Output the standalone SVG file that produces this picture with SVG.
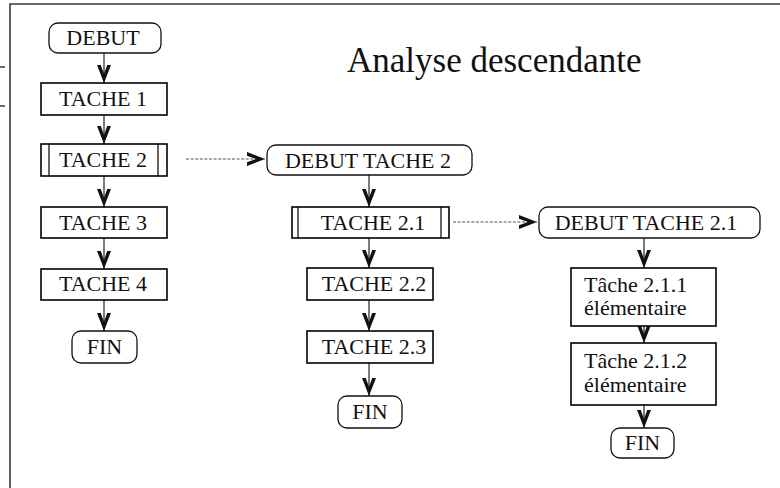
<svg xmlns="http://www.w3.org/2000/svg" width="780" height="488" viewBox="0 0 780 488">
  <style>
    .frame { stroke: #3a3a3a; stroke-width: 1.6; fill: none; }
    .box { fill: #fff; stroke: #000; stroke-width: 1.6; }
    .term { fill: #fff; stroke: #111; stroke-width: 1.3; }
    .sub { stroke: #000; stroke-width: 1.2; }
    .flow { stroke: #333; stroke-width: 1.3; fill: none; marker-end: url(#chev); }
    .link { stroke: #555; stroke-width: 1.1; stroke-dasharray: 3 1.6; fill: none; marker-end: url(#chev); }
    text { font-family: "Liberation Serif", "Times New Roman", serif; font-size: 22px; fill: #111; }
    .c { text-anchor: middle; }
    .title { font-size: 35px; }
  </style>
  <defs>
    <!-- thick open chevron head, tip at the end of the line -->
    <marker id="chev" markerUnits="userSpaceOnUse" viewBox="-19 -8 20 16" refX="0" refY="0" markerWidth="20" markerHeight="16" orient="auto" overflow="visible">
      <path d="M0,0 L-18,-7 L-18,-3.2 L-9,0 L-18,3.2 L-18,7 Z" fill="#111"/>
    </marker>
  </defs>

  <rect width="780" height="488" fill="#fff"/>

  <!-- page frame and margin ticks -->
  <path class="frame" d="M10,488 V4 H780"/>
  <path class="frame" d="M0,67 H5 M0,106 H5" stroke-width="1.2"/>

  <text class="title" x="347" y="72">Analyse descendante</text>

  <g id="connectors">
    <!-- main flow -->
    <path class="flow" d="M104,53 V83"/>
    <path class="flow" d="M104,115 V144"/>
    <path class="flow" d="M104,176 V207"/>
    <path class="flow" d="M104,238 V269"/>
    <path class="flow" d="M104,300 V331"/>
    <!-- TACHE 2 detail -->
    <path class="link" d="M186,159 H265"/>
    <path class="flow" d="M369,175 V207"/>
    <path class="flow" d="M369,238 V268"/>
    <path class="flow" d="M369,300 V331"/>
    <path class="flow" d="M369,363 V396"/>
    <!-- TACHE 2.1 detail -->
    <path class="link" d="M453,222 H537"/>
    <path class="flow" d="M644,238 V268"/>
    <path class="flow" d="M644,326 V343"/>
    <path class="flow" d="M644,405 V428"/>
  </g>

  <g id="debut">
    <rect class="term" x="49" y="23" width="112" height="30" rx="9"/>
    <text class="c" x="103" y="45">DEBUT</text>
  </g>
  <g id="tache1">
    <rect class="box" x="41" y="83" width="126" height="32"/>
    <text class="c" x="103" y="106">TACHE 1</text>
  </g>
  <g id="tache2">
    <rect class="box" x="41" y="144" width="126" height="32"/>
    <path class="sub" d="M49,144 V176 M158,144 V176"/>
    <text class="c" x="103" y="167">TACHE 2</text>
  </g>
  <g id="tache3">
    <rect class="box" x="41" y="207" width="126" height="31"/>
    <text class="c" x="103" y="230">TACHE 3</text>
  </g>
  <g id="tache4">
    <rect class="box" x="41" y="269" width="126" height="31"/>
    <text class="c" x="103" y="291">TACHE 4</text>
  </g>
  <g id="fin">
    <rect class="term" x="72" y="331" width="65" height="32" rx="9"/>
    <text class="c" x="104.5" y="354">FIN</text>
  </g>

  <g id="debut-tache2">
    <rect class="term" x="267" y="145" width="205" height="30" rx="9"/>
    <text class="c" x="368" y="168">DEBUT TACHE 2</text>
  </g>
  <g id="tache2-1">
    <rect class="box" x="292" y="207" width="157" height="31"/>
    <path class="sub" d="M298,207 V238 M441,207 V238"/>
    <text class="c" x="373" y="230">TACHE 2.1</text>
  </g>
  <g id="tache2-2">
    <rect class="box" x="307" y="268" width="126" height="32"/>
    <text class="c" x="374" y="291">TACHE 2.2</text>
  </g>
  <g id="tache2-3">
    <rect class="box" x="307" y="331" width="126" height="32"/>
    <text class="c" x="374" y="354">TACHE 2.3</text>
  </g>
  <g id="fin-tache2">
    <rect class="term" x="338" y="396" width="64" height="32" rx="9"/>
    <text class="c" x="370" y="419">FIN</text>
  </g>

  <g id="debut-tache2-1">
    <rect class="term" x="539" y="207" width="221" height="31" rx="9"/>
    <text class="c" x="646" y="230">DEBUT TACHE 2.1</text>
  </g>
  <g id="tache2-1-1">
    <rect class="box" x="571" y="268" width="145" height="58"/>
    <text x="584" y="292">Tâche 2.1.1</text>
    <text x="584" y="315">élémentaire</text>
  </g>
  <g id="tache2-1-2">
    <rect class="box" x="571" y="343" width="145" height="62"/>
    <text x="584" y="368">Tâche 2.1.2</text>
    <text x="584" y="392">élémentaire</text>
  </g>
  <g id="fin-tache2-1">
    <rect class="term" x="611" y="428" width="63" height="30" rx="9"/>
    <text class="c" x="642.5" y="450">FIN</text>
  </g>
</svg>
